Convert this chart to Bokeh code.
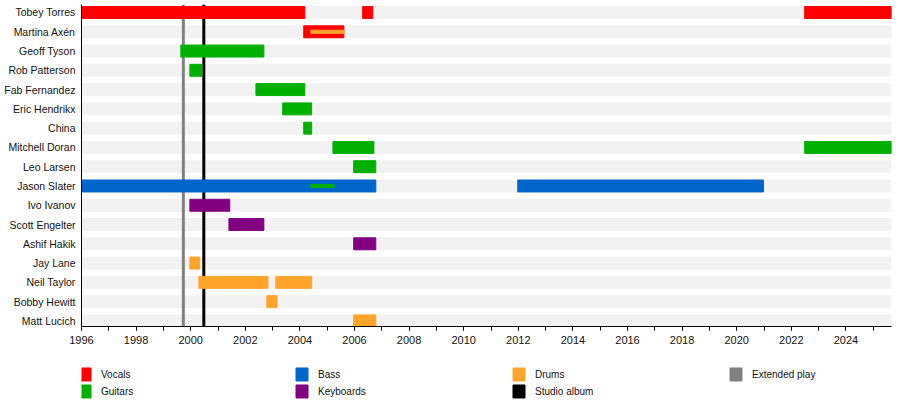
from bokeh.plotting import figure
from bokeh.layouts import column
from bokeh.models import ColumnDataSource, Range1d, FixedTicker
from bokeh.core.properties import value
from bokeh.embed import file_html
from bokeh.resources import INLINE

# ---------- data ----------
members = ["Tobey Torres", "Martina Axén", "Geoff Tyson", "Rob Patterson",
           "Fab Fernandez", "Eric Hendrikx", "China", "Mitchell Doran",
           "Leo Larsen", "Jason Slater", "Ivo Ivanov", "Scott Engelter",
           "Ashif Hakik", "Jay Lane", "Neil Taylor", "Bobby Hewitt", "Matt Lucich"]

start_year = 1996
end_year = 2025.67

bar_member = ["Tobey Torres", "Tobey Torres", "Tobey Torres", "Martina Axén",
              "Geoff Tyson", "Rob Patterson", "Fab Fernandez", "Eric Hendrikx",
              "China", "Mitchell Doran", "Mitchell Doran", "Leo Larsen",
              "Jason Slater", "Jason Slater", "Ivo Ivanov", "Scott Engelter",
              "Ashif Hakik", "Jay Lane", "Neil Taylor", "Neil Taylor",
              "Bobby Hewitt", "Matt Lucich"]
bar_role = ["Vocals", "Vocals", "Vocals", "Vocals",
            "Guitars", "Guitars", "Guitars", "Guitars",
            "Guitars", "Guitars", "Guitars", "Guitars",
            "Bass", "Bass", "Keyboards", "Keyboards",
            "Keyboards", "Drums", "Drums", "Drums",
            "Drums", "Drums"]
bar_start = [1996.0, 2006.30, 2022.49, 2004.14,
             1999.64, 1999.97, 2002.39, 2003.37,
             2004.14, 2005.21, 2022.49, 2005.97,
             1996.0, 2011.98, 1999.97, 2001.40,
             2005.97, 1999.97, 2000.30, 2003.12,
             2002.79, 2005.97]
bar_end = [2004.18, 2006.67, end_year, 2005.61,
           2002.68, 2000.41, 2004.18, 2004.43,
           2004.43, 2006.71, end_year, 2006.78,
           2006.78, 2020.98, 2001.43, 2002.68,
           2006.78, 2000.33, 2002.83, 2004.43,
           2003.16, 2006.78]

# secondary roles (thin inner bars)
inner_member = ["Martina Axén", "Jason Slater"]
inner_role = ["Drums", "Guitars"]
inner_start = [2004.40, 2004.40]
inner_end = [2005.61, 2005.25]

album_type = ["Extended play", "Studio album"]
album_year = [1999.73, 2000.48]

legend_labels = ["Vocals", "Guitars", "Bass", "Keyboards", "Drums", "Studio album", "Extended play"]

role_colors = {
    "Vocals": "#ff0000",
    "Guitars": "#00b000",
    "Bass": "#0066cc",
    "Keyboards": "#800080",
    "Drums": "#ffa42b",
    "Studio album": "#000000",
    "Extended play": "#808080",
}

FONT = "Liberation Sans"
row = {m: i for i, m in enumerate(members)}

# ---------- main timeline ----------
p = figure(width=900, height=352, output_backend="svg", toolbar_location=None,
           x_range=Range1d(start_year, end_year),
           y_range=Range1d(16.29, -0.415),
           min_border_left=81, min_border_right=9, min_border_top=4,
           min_border_bottom=26)
p.outline_line_color = None
p.grid.visible = False

# background bands
p.hbar(y=list(range(len(members))), left=start_year, right=end_year,
       height=0.62, color="#f2f2f2")

# release lines
p.segment(x0=album_year, x1=album_year,
          y0=p.y_range.start, y1=p.y_range.end,
          line_color=[role_colors[t] for t in album_type], line_width=3)

bars = ColumnDataSource(dict(
    y=[row[m] for m in bar_member], left=bar_start, right=bar_end,
    color=[role_colors[r] for r in bar_role]))
p.hbar(y="y", left="left", right="right", height=0.62, color="color", source=bars)

inner = ColumnDataSource(dict(
    y=[row[m] for m in inner_member], left=inner_start, right=inner_end,
    color=[role_colors[r] for r in inner_role]))
p.hbar(y="y", left="left", right="right", height=0.16, color="color", source=inner)

p.xaxis.ticker = FixedTicker(ticks=list(range(1996, 2026, 2)),
                             minor_ticks=list(range(1996, 2026)))
p.xaxis.axis_line_color = "black"
p.xaxis.major_tick_in = 0
p.xaxis.major_tick_out = 4
p.xaxis.minor_tick_in = 0
p.xaxis.minor_tick_out = 4
p.xaxis.major_tick_line_color = "black"
p.xaxis.minor_tick_line_color = "black"
p.xaxis.major_label_standoff = 5
p.xaxis.major_label_text_font = FONT
p.xaxis.major_label_text_font_size = "11px"
p.xaxis.major_label_text_color = "#111111"

p.yaxis.ticker = FixedTicker(ticks=list(range(len(members))), minor_ticks=[])
p.yaxis.major_label_overrides = {i: m for i, m in enumerate(members)}
p.yaxis.axis_line_color = "black"
p.yaxis.major_tick_line_color = None
p.yaxis.major_tick_in = 0
p.yaxis.major_tick_out = 0
p.yaxis.major_label_standoff = 6
p.yaxis.major_label_text_font = FONT
p.yaxis.major_label_text_font_size = "10.5px"
p.yaxis.major_label_text_color = "#111111"

# ---------- legend strip ----------
col_w = 217.0
frame_w = 810.0
leg = figure(width=900, height=53, output_backend="svg", toolbar_location=None,
             x_range=Range1d(-3.5 / col_w, (frame_w - 3.5) / col_w),
             y_range=Range1d(1.824, -1.294),
             min_border_left=81, min_border_right=9, min_border_top=0,
             min_border_bottom=0)
leg.outline_line_color = None
leg.grid.visible = False
leg.axis.visible = False

ls = ColumnDataSource(dict(
    x=[i // 2 for i in range(len(legend_labels))],
    y=[i % 2 for i in range(len(legend_labels))],
    label=legend_labels,
    color=[role_colors[l] for l in legend_labels]))
leg.rect(x="x", y="y", width=12, height=13, width_units="screen",
         height_units="screen", color="color", source=ls)
leg.text(x="x", y="y", text="label", x_offset=16, text_baseline="middle",
         text_font=value(FONT), text_font_size="10px", text_color="#111111",
         source=ls)

layout = column(p, leg)
open("out.html", "w").write(file_html(layout, INLINE))
